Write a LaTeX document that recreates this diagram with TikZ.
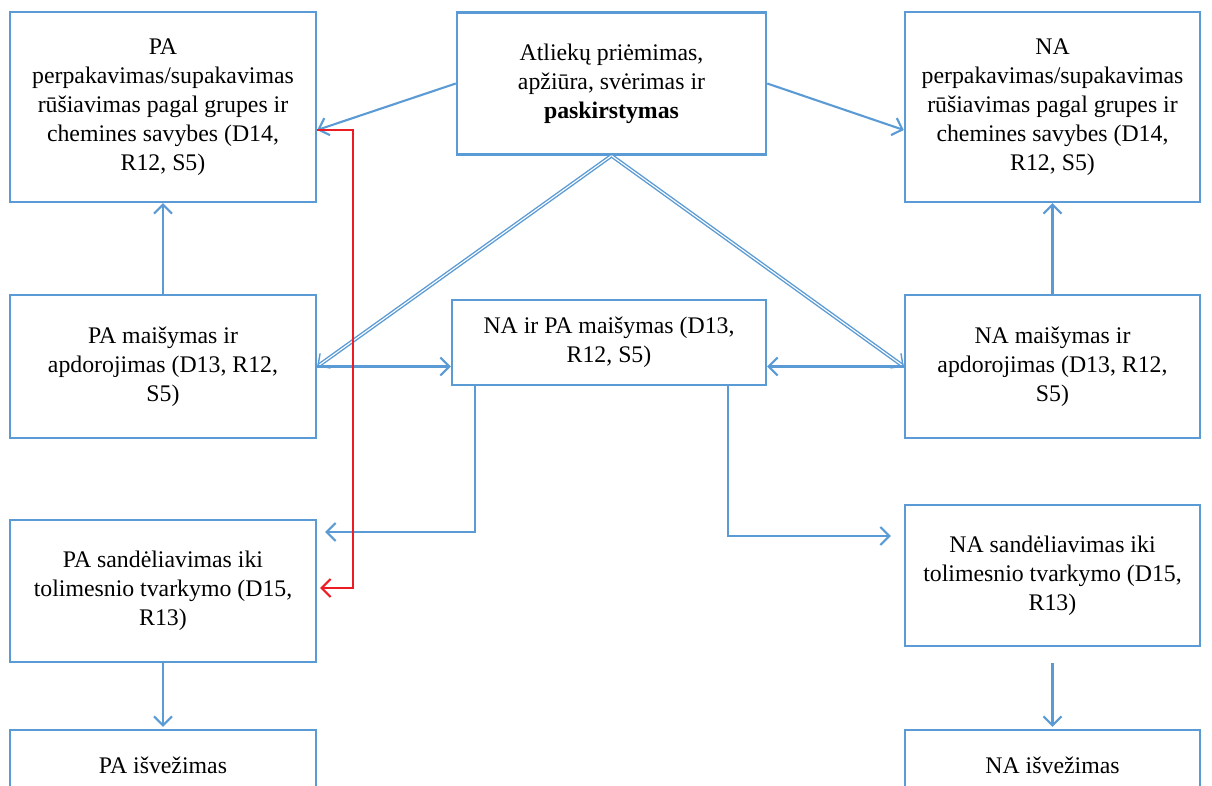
\documentclass[tikz,border=0pt]{standalone}
\usepackage{fontspec}
\setmainfont{Liberation Serif}
\usetikzlibrary{arrows.meta,calc}
\definecolor{bl}{RGB}{91,155,213}
\definecolor{rd}{RGB}{237,28,36}
\begin{document}
\begin{tikzpicture}[x=1pt,y=-1pt,
  box/.style={draw=bl, line width=2.4pt, align=center, inner sep=0pt,
    font=\fontsize{23.8}{29}\selectfont},
  tipb/.style={-{Straight Barb[length=9pt,width=18pt]}},
  conn/.style={draw=bl, line width=2.1pt, tipb},
  dbl/.style={draw=bl, line width=1.4pt, double=white, double distance=1.1pt, tipb},
  redc/.style={draw=rd, line width=2.1pt, tipb}]
\useasboundingbox (0,0) rectangle (1212,786);
\clip (0,0) rectangle (1212,786);
\fill[white] (0,0) rectangle (1212,786);

\node[box, minimum width=306pt, minimum height=190pt] (pa1) at (163,107)
  {PA\\perpakavimas/supakavimas\\rūšiavimas pagal grupes ir\\chemines savybes (D14,\\R12, S5)};
\node[box, minimum width=309pt, minimum height=142pt] (ctr) at (611.5,83.5)
  {Atliekų priėmimas,\\apžiūra, svėrimas ir\\\textbf{paskirstymas}};
\node[box, minimum width=295pt, minimum height=190pt] (na1) at (1052.5,107)
  {NA\\perpakavimas/supakavimas\\rūšiavimas pagal grupes ir\\chemines savybes (D14,\\R12, S5)};
\node[box, minimum width=306pt, minimum height=143pt] (pa2) at (163,366.5)
  {PA maišymas ir\\apdorojimas (D13, R12,\\S5)};
\node[box, minimum width=314pt, minimum height=85pt] (mid) at (609,342.5)
  {NA ir PA maišymas (D13,\\R12, S5)};
\node[box, minimum width=295pt, minimum height=143pt] (na2) at (1052.5,366.5)
  {NA maišymas ir\\apdorojimas (D13, R12,\\S5)};
\node[box, minimum width=306pt, minimum height=142pt] (pa3) at (163,591)
  {PA sandėliavimas iki\\tolimesnio tvarkymo (D15,\\R13)};
\node[box, minimum width=295pt, minimum height=141pt] (na3) at (1052.5,575.5)
  {NA sandėliavimas iki\\tolimesnio tvarkymo (D15,\\R13)};
\node[box, minimum width=306pt, minimum height=70pt] (pa4) at (163,765)
  {PA išvežimas};
\node[box, minimum width=295pt, minimum height=70pt] (na4) at (1052.5,765)
  {NA išvežimas};

\draw[conn] (ctr.west) -- ($(pa1.east)+(0,23)$);
\draw[conn] (ctr.east) -- ($(na1.west)+(0,23)$);
\draw[dbl] (ctr.south) -- (pa2.east);
\draw[dbl] (ctr.south) -- (na2.west);
\draw[conn] (pa2.north) -- (pa1.south);
\draw[conn] (na2.north) -- (na1.south);
\draw[conn] (pa2.east) -- (mid.west |- pa2.east);
\draw[conn] (na2.west) -- (mid.east |- na2.west);
\draw[conn, shorten >=8pt] ($(mid.south west)+(24,0)$) |- ($(pa3.east)+(0,-59)$);
\draw[conn, shorten >=13pt] ($(mid.south east)+(-39,0)$) |- ($(na3.west)+(0,-39.5)$);
\draw[redc, shorten >=3pt] ($(pa1.east)+(0,23)$) -- ++(36,0) |- ($(pa3.east)+(0,-3)$);
\draw[conn, shorten >=2pt] (pa3.south) -- (pa4.north);
\draw[conn, shorten <=16pt, shorten >=2pt] (na3.south) -- (na4.north);
\end{tikzpicture}
\end{document}
